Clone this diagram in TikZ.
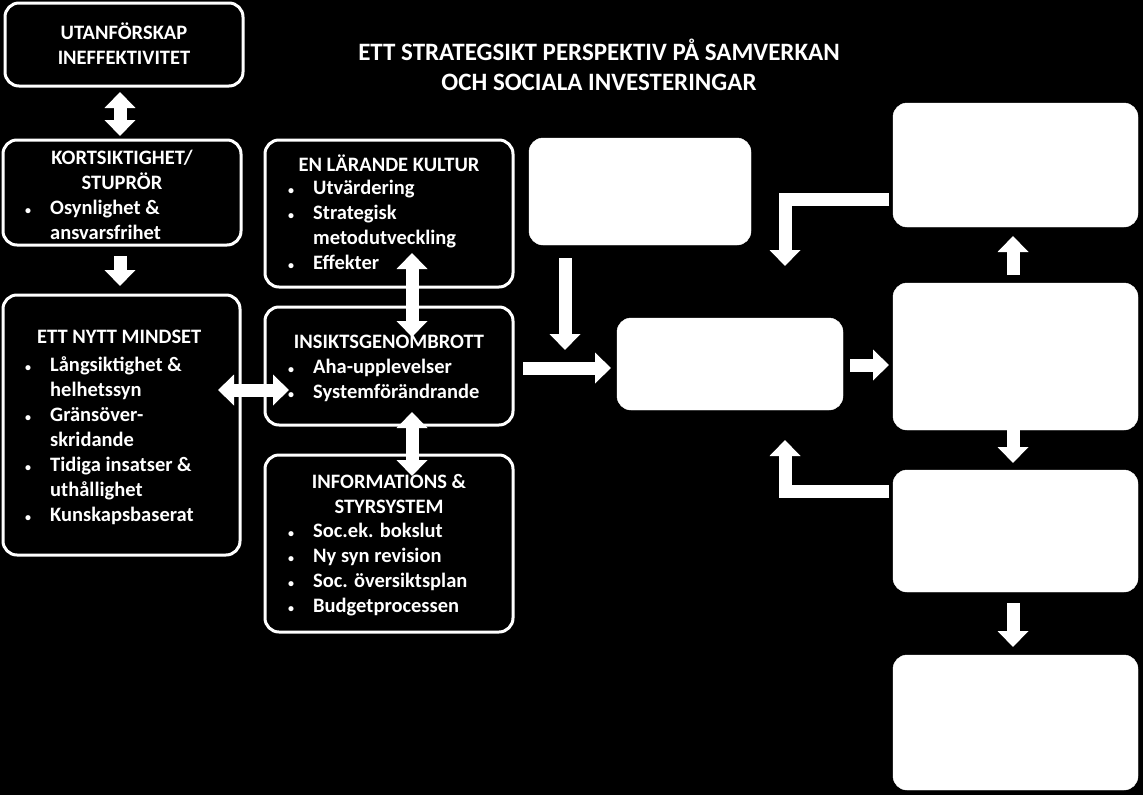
\documentclass[tikz,border=0pt]{standalone}
\usepackage{fontspec}
\setmainfont{Carlito}
\usetikzlibrary{arrows.meta}
\newcommand{\bi}{\makebox[30pt][l]{\hspace*{5pt}\fontsize{12}{12}\selectfont\textbullet}}
\newcommand{\bc}{\hspace*{30pt}}
\begin{document}
\begin{tikzpicture}[x=1pt,y=-1pt,
  box/.style={draw=white,line width=3pt,rounded corners=14pt,fill=black},
  wbox/.style={draw=white,fill=white,rounded corners=14pt},
  txt/.style={text=white,font=\fontsize{20.5}{25}\selectfont\bfseries,align=left,inner sep=0pt},
  htxt/.style={text=white,font=\fontsize{20.5}{25}\selectfont\bfseries,align=center,inner sep=0pt},
  fat/.style={draw=white,line width=13pt,-{Triangle[width=30pt,length=16pt]}},
  fat2/.style={draw=white,line width=13pt,{Triangle[width=30pt,length=16pt]}-{Triangle[width=30pt,length=16pt]}}]
\fill[black] (0,0) rectangle (1143,795);
\useasboundingbox (0,0) rectangle (1143,795);
% boxes
\draw[box] (5,3) rectangle (243,86);
\node[htxt] (ut) at (124,44) {UTANFÖRSKAP\\INEFFEKTIVITET};
\draw[box] (3,140) rectangle (241,245);
\node[htxt] (kt) at (122,170) {KORTSIKTIGHET/\\STUPRÖR};
\node[txt,anchor=north west] (kb) at (20,200) {\bi Osynlighet \&\\\bc ansvarsfrihet};
\draw[box] (3,295) rectangle (240,555);
\node[txt,anchor=north west] (mt) at (37,330) {ETT NYTT MINDSET};
\node[txt,anchor=north west] (mb) at (20,356) {\bi Långsiktighet \&\\\bc helhetssyn\\\bi Gränsöver-\\\bc skridande\\\bi Tidiga insatser \&\\\bc uthållighet\\\bi Kunskapsbaserat};
\draw[box] (265,140) rectangle (513,287);
\node[htxt] (lt) at (389,163) {EN LÄRANDE KULTUR};
\node[txt,anchor=north west] (lb) at (283,180) {\bi Utvärdering\\\bi Strategisk\\\bc metodutveckling\\\bi Effekter};
\draw[box] (265,307) rectangle (513,425);
\node[htxt] (it) at (389,342) {INSIKTSGENOMBROTT};
\node[txt,anchor=north west] (ib) at (283,359) {\bi Aha-upplevelser\\\bi Systemförändrande};
\draw[box] (265,455) rectangle (513,632);
\node[htxt] (ft) at (389,494) {INFORMATIONS \&\\STYRSYSTEM};
\node[txt,anchor=north west] (fb) at (283,523) {\bi Soc.ek. bokslut\\\bi Ny syn revision\\\bi Soc. översiktsplan\\\bi Budgetprocessen};
\draw[wbox] (529,138) rectangle (751,245);
\draw[wbox] (617,318) rectangle (843,410);
\draw[wbox] (893,103) rectangle (1138,227);
\draw[wbox] (893,283) rectangle (1138,430);
\draw[wbox] (893,470) rectangle (1138,592);
\draw[wbox] (893,655) rectangle (1138,790);
\coordinate (r1w) at (889,199);
\coordinate (r3w) at (889,491);
\node[htxt,font=\fontsize{25}{30}\selectfont\bfseries] (title) at (599,65) {ETT STRATEGSIKT PERSPEKTIV PÅ SAMVERKAN\\OCH SOCIALA INVESTERINGAR};
% arrows
\draw[fat2] (120,92) -- (120,136);
\draw[fat] (120,256) -- (120,286);
\draw[fat2] (218,390) -- (289,390);
\draw[fat2] (412,253) -- (412,337);
\draw[fat2] (412,412) -- (412,476);
\draw[fat] (565,258) -- (565,350);
\draw[fat] (523,368) -- (611,368);
\draw[fat] (850,365) -- (889,365);
\draw[fat] (1013,275) -- (1013,236);
\draw[fat] (1013,418) -- (1013,463);
\draw[fat] (1013,603) -- (1013,647);
\coordinate (e1) at (785,266);
\coordinate (e2) at (785,440);
\draw[fat] (r1w) -- (785,199) -- (e1);
\draw[fat] (r3w) -- (785,491) -- (e2);
\end{tikzpicture}
\end{document}
